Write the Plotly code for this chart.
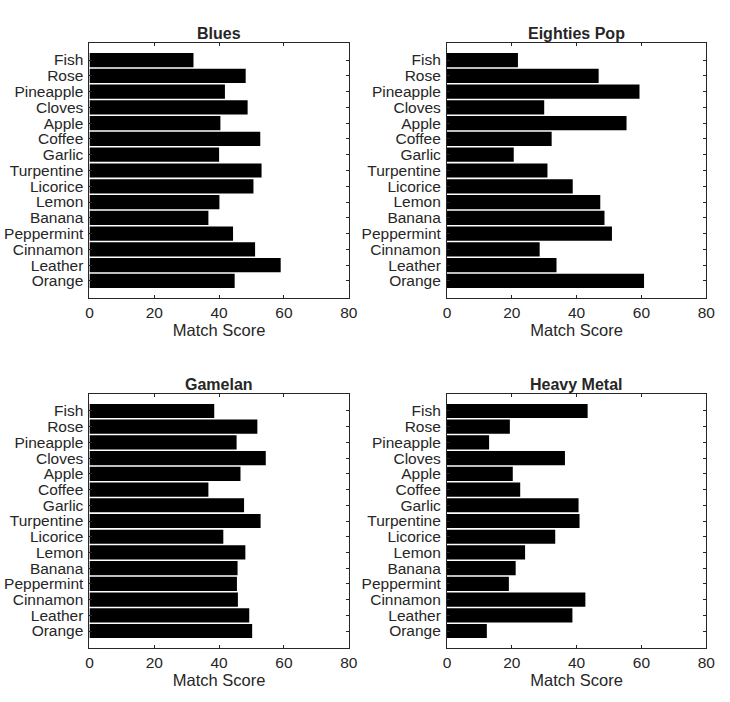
import plotly.graph_objects as go

categories = ["Fish", "Rose", "Pineapple", "Cloves", "Apple", "Coffee", "Garlic",
              "Turpentine", "Licorice", "Lemon", "Banana", "Peppermint",
              "Cinnamon", "Leather", "Orange"]

blues = [32.1, 48.2, 41.8, 48.8, 40.4, 52.7, 40.0, 53.1, 50.6, 40.1, 36.7, 44.3, 51.1, 59.0, 44.8]
eighties_pop = [21.9, 46.8, 59.4, 30.0, 55.4, 32.3, 20.6, 31.0, 38.8, 47.3, 48.6, 50.9, 28.6, 33.8, 60.8]
gamelan = [38.5, 51.8, 45.4, 54.4, 46.6, 36.7, 47.7, 52.8, 41.3, 48.1, 45.7, 45.5, 45.8, 49.3, 50.2]
heavy_metal = [43.4, 19.4, 13.0, 36.4, 20.3, 22.6, 40.6, 40.9, 33.4, 24.1, 21.2, 19.1, 42.7, 38.7, 12.3]

titles = ["Blues", "Eighties Pop", "Gamelan", "Heavy Metal"]
series = [blues, eighties_pop, gamelan, heavy_metal]
x_ticks = [0, 20, 40, 60, 80]
x_title = "Match Score"

W, H = 730, 702
xdoms = [(87 / W, 351 / W), (451 / W, 715 / W)]
ydoms = [(1 - 298 / H, 1 - 43 / H), (1 - 648 / H, 1 - 394 / H)]

FONT = "Liberation Sans, Arial, Helvetica, sans-serif"
TXT = "#262626"

fig = go.Figure()
annotations = []
for i, (title, vals) in enumerate(zip(titles, series)):
    r, c = divmod(i, 2)
    n = i + 1
    xa = "x" if n == 1 else f"x{n}"
    ya = "y" if n == 1 else f"y{n}"
    fig.add_trace(go.Bar(
        x=vals, y=list(range(len(categories))), orientation="h",
        marker=dict(color="black", line=dict(width=0)),
        width=0.9, xaxis=xa, yaxis=ya, showlegend=False,
    ))
    axis_common = dict(
        showline=True, linecolor=TXT, linewidth=1, mirror="ticks",
        ticks="inside", ticklen=3, tickcolor=TXT, tickwidth=1,
        showgrid=False, zeroline=False,
        tickfont=dict(family=FONT, size=15.5, color=TXT),
    )
    fig.layout[f"xaxis{n if n > 1 else ''}"] = dict(
        axis_common, domain=list(xdoms[c]), anchor=ya, range=[0, 80],
        tickvals=x_ticks, ticktext=[str(t) for t in x_ticks],
        title=dict(text=x_title, font=dict(family=FONT, size=16.5, color=TXT), standoff=1),
    )
    fig.layout[f"yaxis{n if n > 1 else ''}"] = dict(
        axis_common, domain=list(ydoms[r]), anchor=xa,
        range=[len(categories) - 1 + 1.08, -1.08],
        tickvals=list(range(len(categories))), ticktext=categories,
        ticklabelstandoff=2,
    )
    annotations.append(dict(
        text=f"<b>{title}</b>", x=(xdoms[c][0] + xdoms[c][1]) / 2, y=ydoms[r][1],
        xref="paper", yref="paper", xanchor="center", yanchor="bottom", yshift=-1,
        showarrow=False, font=dict(family=FONT, size=16, color=TXT),
    ))

fig.update_layout(
    width=W, height=H, margin=dict(l=0, r=0, t=0, b=0),
    plot_bgcolor="white", paper_bgcolor="white",
    annotations=annotations, bargap=0.1,
)
fig.write_html("out.html", config={"displayModeBar": False},
               post_script="document.body.style.margin='0';document.body.style.overflow='hidden';")
